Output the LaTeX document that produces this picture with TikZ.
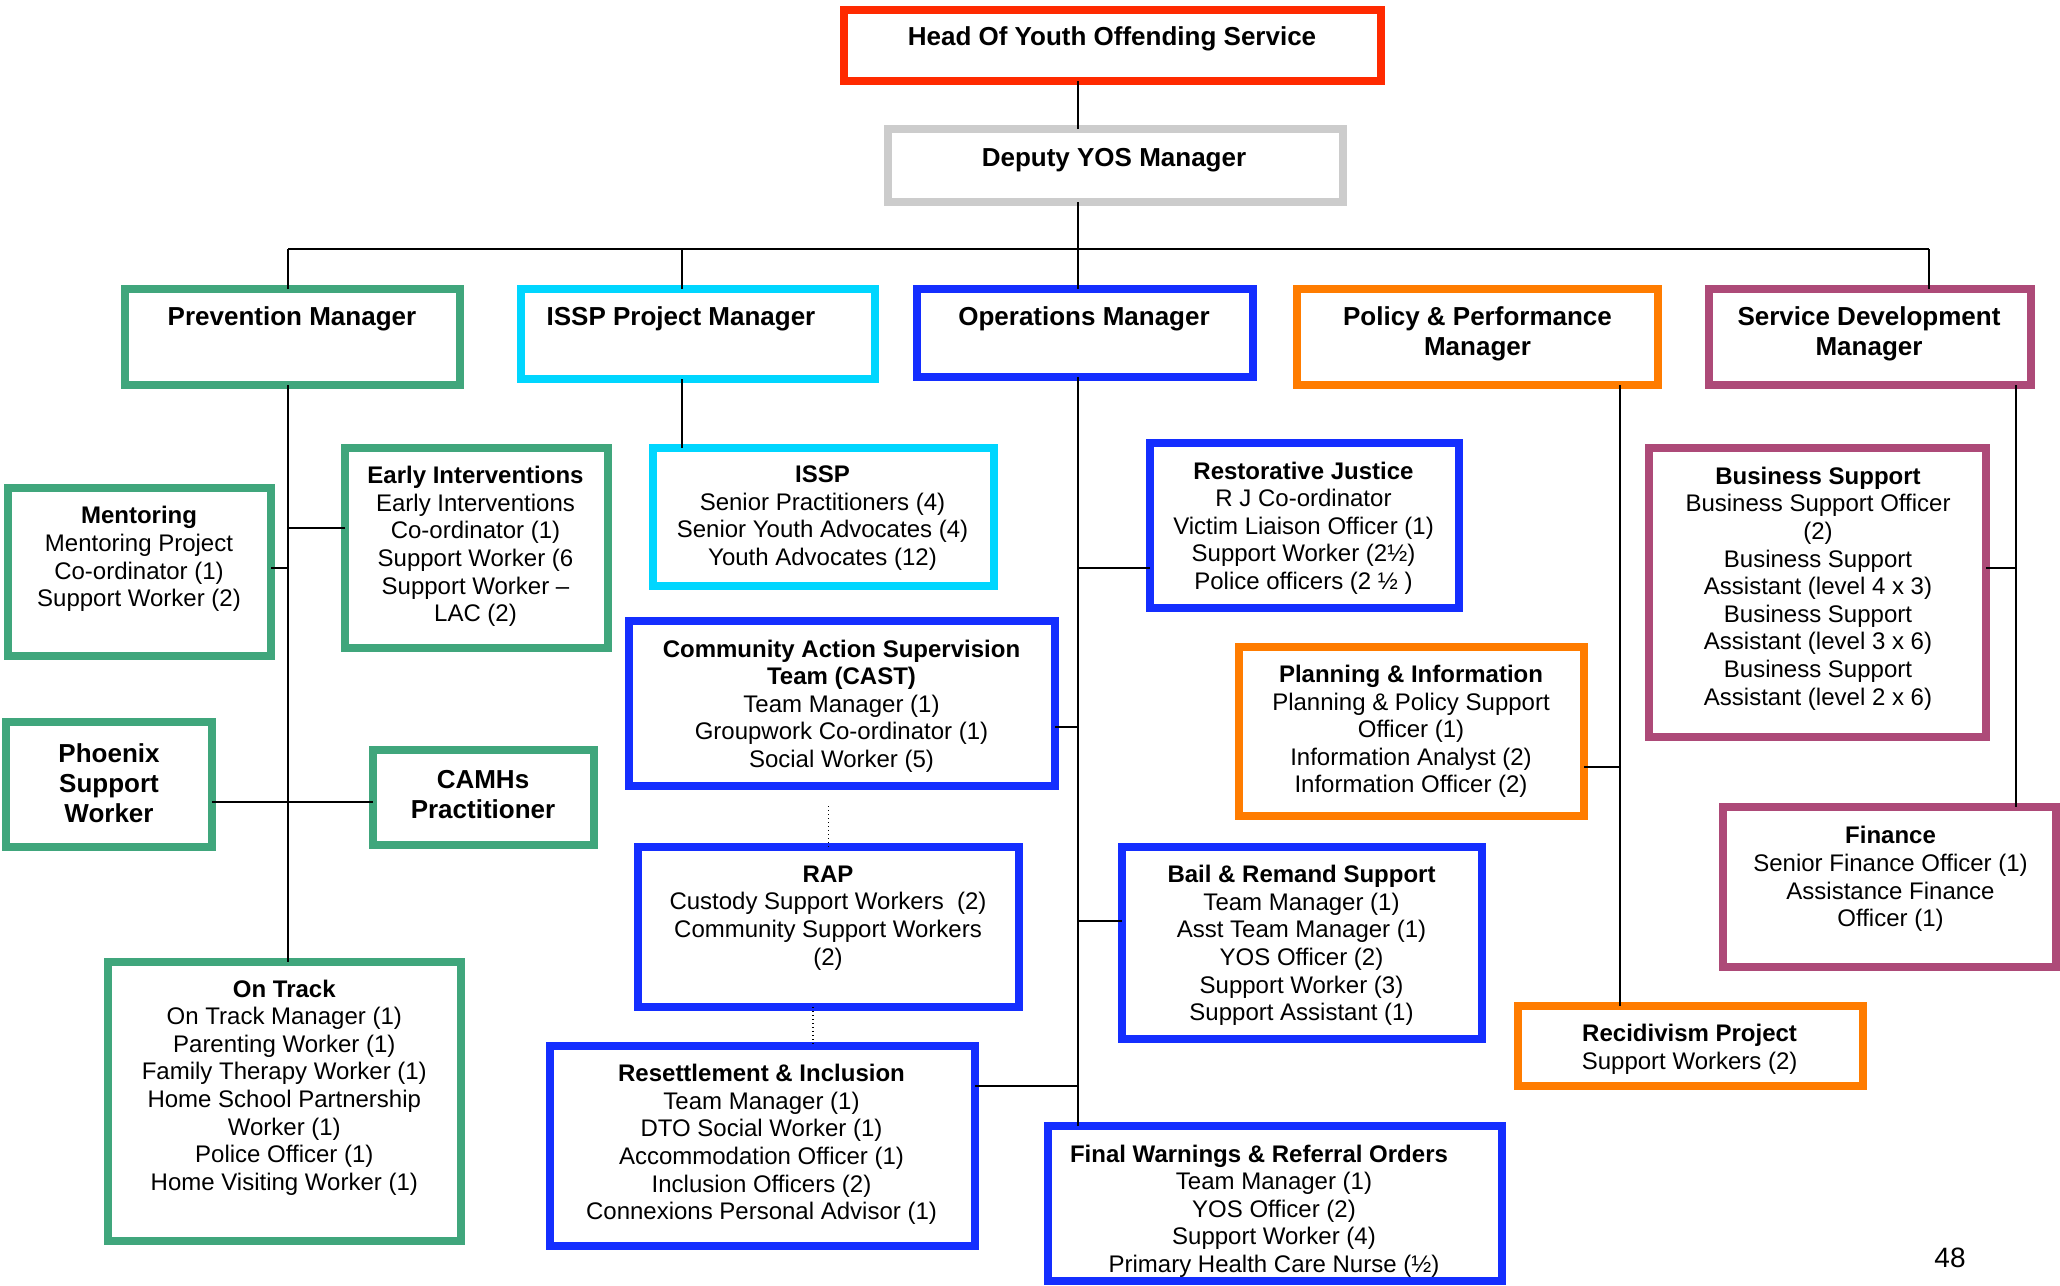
\documentclass[tikz,border=0pt]{standalone}
\usepackage{fontspec}
\setmainfont{Liberation Sans}
\usetikzlibrary{calc}
\definecolor{headred}{RGB}{255,42,0}
\definecolor{deputygray}{RGB}{204,204,204}
\definecolor{prevgreen}{RGB}{64,166,124}
\definecolor{isspcyan}{RGB}{0,214,255}
\definecolor{opsblue}{RGB}{20,46,255}
\definecolor{polorange}{RGB}{255,124,0}
\definecolor{devpurple}{RGB}{173,74,120}
\begin{document}
\begin{tikzpicture}[x=0.5pt,y=-0.5pt,
  unit/.style={draw=#1, line width=4pt, inner sep=0pt, outer sep=0pt},
  lbl/.style={align=center, inner sep=0pt, font=\fontsize{12}{13.8}\selectfont},
  biglbl/.style={align=center, inner sep=0pt, font=\fontsize{13}{15}\selectfont\bfseries},
  link/.style={line width=1pt, black},
  dotlink/.style={line width=0.7pt, black, dash pattern=on 0.7pt off 1.3pt}]
\useasboundingbox (0,0) rectangle (2060,1285);
\clip (0,0) rectangle (2060,1285);
\fill[white] (0,0) rectangle (2060,1285);

% ---------- labels ----------
\node[biglbl] (headt) at (1112,39) {Head Of Youth Offending Service};
\node[biglbl] (deputyt) at (1114,160) {Deputy YOS Manager};
\node[biglbl] (prevt) at (292,319) {Prevention Manager};
\node[biglbl] (isspmt) at (681,319) {ISSP Project Manager};
\node[biglbl] (opst) at (1084,319) {Operations Manager};
\node[biglbl] (policyt) at (1477.5,334) {Policy \& Performance\\Manager};
\node[biglbl] (servdevt) at (1869,334) {Service Development\\Manager};

\node[lbl] (mentort) at (139,559) {\textbf{Mentoring}\\Mentoring Project\\Co-ordinator (1)\\Support Worker (2)};
\node[lbl] (earlyt) at (475.5,546.5) {\textbf{Early Interventions}\\Early Interventions\\Co-ordinator (1)\\Support Worker (6\\Support Worker --\\LAC (2)};
\node[biglbl] (phoenixt) at (109,783) {Phoenix\\Support\\Worker};
\node[biglbl] (camhst) at (483,794.5) {CAMHs\\Practitioner};
\node[lbl] (onTrackt) at (284.3,1087.5) {\textbf{On Track}\\On Track Manager (1)\\Parenting Worker (1)\\Family Therapy Worker (1)\\Home School Partnership\\Worker (1)\\Police Officer (1)\\Home Visiting Worker (1)};

\node[lbl] (isspt) at (822.5,518) {\textbf{ISSP}\\Senior Practitioners (4)\\Senior Youth Advocates (4)\\Youth Advocates (12)};
\node[lbl] (castt) at (841.5,706) {\textbf{Community Action Supervision}\\\textbf{Team (CAST)}\\Team Manager (1)\\Groupwork Co-ordinator (1)\\Social Worker (5)};
\node[lbl] (rapt) at (828,918) {\textbf{RAP}\\Custody Support Workers~~(2)\\Community Support Workers\\(2)};
\node[lbl] (resettt) at (761.5,1144.5) {\textbf{Resettlement \& Inclusion}\\Team Manager (1)\\DTO Social Worker (1)\\Accommodation Officer (1)\\Inclusion Officers (2)\\Connexions Personal Advisor (1)};

\node[lbl] (rjt) at (1303.5,528) {\textbf{Restorative Justice}\\R J Co-ordinator\\Victim Liaison Officer (1)\\Support Worker (2½)\\Police officers (2 ½ )};
\node[lbl] (bailt) at (1301.5,945.5) {\textbf{Bail \& Remand Support}\\Team Manager (1)\\Asst Team Manager (1)\\YOS Officer (2)\\Support Worker (3)\\Support Assistant (1)};
\node[lbl] (fwt) at (1274,1211) {\textbf{Final Warnings \& Referral Orders}\hspace*{15pt}\\Team Manager (1)\\YOS Officer (2)\\Support Worker (4)\\Primary Health Care Nurse (½)};

\node[lbl] (plant) at (1411,731.5) {\textbf{Planning \& Information}\\Planning \& Policy Support\\Officer (1)\\Information Analyst (2)\\Information Officer (2)};
\node[lbl] (recidt) at (1689.6,1049.5) {\textbf{Recidivism Project}\\Support Workers (2)};

\node[lbl] (bust) at (1818,588.5) {\textbf{Business Support}\\Business Support Officer\\(2)\\Business Support\\Assistant (level 4 x 3)\\Business Support\\Assistant (level 3 x 6)\\Business Support\\Assistant (level 2 x 6)};
\node[lbl] (fint) at (1890.5,879) {\textbf{Finance}\\Senior Finance Officer (1)\\Assistance Finance\\Officer (1)};

\node[inner sep=0pt, font=\fontsize{14}{16}\selectfont] (pageno) at (1950,1258) {48};

% ---------- boxes ----------
\node[unit=headred, minimum width=268.5pt, minimum height=35.5pt] (head) at (1112.5,45.5) {};
\node[unit=deputygray, minimum width=227.5pt, minimum height=36.5pt] (deputy) at (1115.5,165.5) {};

\node[unit=prevgreen, minimum width=167.5pt, minimum height=48pt] (prev) at (292.5,337) {};
\node[unit=isspcyan, minimum width=177pt, minimum height=45pt] (isspm) at (698,334) {};
\node[unit=opsblue, minimum width=168pt, minimum height=44pt] (ops) at (1085,333) {};
\node[unit=polorange, minimum width=180.5pt, minimum height=48pt] (policy) at (1477.5,337) {};
\node[unit=devpurple, minimum width=161pt, minimum height=48pt] (servdev) at (1870,337) {};

\node[unit=prevgreen, minimum width=131.5pt, minimum height=84pt] (mentor) at (139.5,572) {};
\node[unit=prevgreen, minimum width=131.5pt, minimum height=100pt] (early) at (476.5,548) {};
\node[unit=prevgreen, minimum width=103pt, minimum height=62.5pt] (phoenix) at (109,784.5) {};
\node[unit=prevgreen, minimum width=110.5pt, minimum height=47.5pt] (camhs) at (483.5,797.5) {};
\node[unit=prevgreen, minimum width=176.5pt, minimum height=139.5pt] (ontrack) at (284.5,1101.5) {};

\node[unit=isspcyan, minimum width=170.5pt, minimum height=69pt] (issp) at (823.5,517) {};
\node[unit=opsblue, minimum width=213pt, minimum height=82.5pt] (cast) at (842,703.5) {};
\node[unit=opsblue, minimum width=190.5pt, minimum height=80pt] (rap) at (828.5,927) {};
\node[unit=opsblue, minimum width=212.5pt, minimum height=100pt] (resett) at (762.5,1146) {};
\node[unit=opsblue, minimum width=154.5pt, minimum height=82.5pt] (rj) at (1304.5,525.5) {};
\node[unit=opsblue, minimum width=180pt, minimum height=96pt] (bail) at (1302,943) {};
\node[unit=opsblue, minimum width=227pt, minimum height=77.5pt] (fw) at (1275,1203.5) {};

\node[unit=polorange, minimum width=172.5pt, minimum height=84.5pt] (plan) at (1411.5,731.5) {};
\node[unit=polorange, minimum width=172.5pt, minimum height=40pt] (recid) at (1690.5,1046) {};

\node[unit=devpurple, minimum width=168.5pt, minimum height=144.5pt] (bus) at (1817.5,592.5) {};
\node[unit=devpurple, minimum width=166.5pt, minimum height=80pt] (fin) at (1889.5,887) {};

% ---------- connector guides ----------
\coordinate (trunk) at (1078,249);
\coordinate (pvline) at (288,0);
\coordinate (isline) at (682,0);
\coordinate (sdbus) at (1929,0);
\coordinate (ppline) at (1620,0);
\coordinate (sdline) at (2016,0);

% ---------- top of the tree ----------
\draw[link] (head.south -| trunk) -- (deputy.north -| trunk);
\draw[link] (deputy.south -| trunk) -- (trunk);
\draw[link] (pvline |- trunk) -- (sdbus |- trunk);
\draw[link] (pvline |- trunk) -- (pvline |- prev.north);
\draw[link] (isline |- trunk) -- (isline |- isspm.north);
\draw[link] (trunk) -- (ops.north -| trunk);
\draw[link] (sdbus |- trunk) -- (sdbus |- servdev.north);

% ---------- prevention ----------
\draw[link] (pvline |- prev.south) -- (pvline |- ontrack.north);
\coordinate (eiy) at ($(early.west)+(0,-20)$);
\draw[link] (eiy) -- (eiy -| pvline);
\coordinate (mny) at ($(mentor.east)+(0,-4)$);
\draw[link] (mny) -- (mny -| pvline);
\coordinate (phy) at ($(phoenix.east)+(0,17.5)$);
\draw[link] (phy) -- (phy -| camhs.west);

% ---------- ISSP ----------
\draw[link] (isline |- isspm.south) -- (isline |- issp.north);

% ---------- operations ----------
\draw[link] (ops.south -| trunk) -- (fw.north -| trunk);
\coordinate (rjy) at ($(rj.west)+(0,42.5)$);
\draw[link] (rjy -| trunk) -- (rjy);
\coordinate (csy) at ($(cast.east)+(0,23.5)$);
\draw[link] (csy) -- (csy -| trunk);
\coordinate (bly) at ($(bail.west)+(0,-22)$);
\draw[link] (bly -| trunk) -- (bly);
\coordinate (rsy) at ($(resett.east)+(0,-60)$);
\draw[link] (rsy) -- (rsy -| trunk);
\coordinate (d1) at ($(rap.north |- cast.south)+(0,20)$);
\draw[dotlink] (d1) -- (rap.north);
\coordinate (d2) at ($(rap.south)+(-15.5,0)$);
\draw[dotlink] (d2) -- (d2 |- resett.north);

% ---------- policy & performance ----------
\draw[link] (ppline |- policy.south) -- (ppline |- recid.north);
\coordinate (ply) at ($(plan.east)+(0,35.5)$);
\draw[link] (ply) -- (ply -| ppline);

% ---------- service development ----------
\draw[link] (sdline |- servdev.south) -- (sdline |- fin.north);
\coordinate (bsy) at ($(bus.east)+(0,-24.5)$);
\draw[link] (bsy) -- (bsy -| sdline);
\end{tikzpicture}
\end{document}
